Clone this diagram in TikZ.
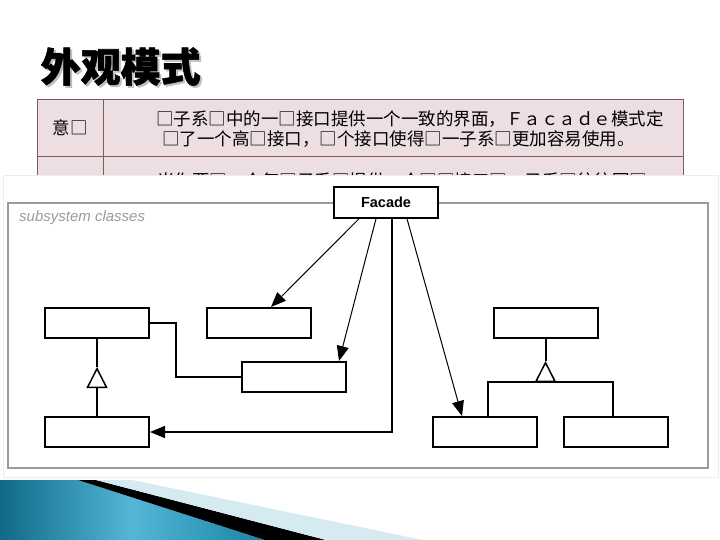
\documentclass[tikz,border=0pt]{standalone}
\usepackage{fontspec}
\setmainfont{Liberation Sans}
\newfontfamily\cjk{Noto Sans CJK SC}
\newfontfamily\titlefont{Noto Sans CJK SC}[BoldFeatures={FakeBold=1.5}]
\usetikzlibrary{arrows.meta,calc}
\definecolor{tblfill}{RGB}{236,222,225}
\definecolor{tblline}{RGB}{128,88,96}
\definecolor{framegray}{RGB}{155,155,155}
\definecolor{tealdark}{RGB}{16,106,136}
\definecolor{tealmid}{RGB}{84,182,214}
\definecolor{tealright}{RGB}{24,132,165}
\definecolor{paleblue}{RGB}{214,234,241}
\begin{document}
\begin{tikzpicture}[x=1pt,y=-1pt,
  cls/.style={draw,line width=2pt,fill=white,minimum width=104pt,minimum height=30pt,inner sep=0pt},
  facadebox/.style={draw,line width=1.5pt,fill=white,minimum width=104pt,minimum height=31pt,inner sep=0pt,font=\bfseries\fontsize{14.5}{14.5}\selectfont},
  assoc/.style={line width=1pt,-{Triangle[length=15pt,width=12pt]}},
  genline/.style={line width=2pt},
  gentip/.style={line width=1.5pt,-{Triangle[open,length=21pt,width=21pt]}},
  cjktext/.style={anchor=west,inner sep=0pt,font=\cjk\fontsize{17.5}{20}\selectfont},
  titletext/.style={anchor=west,inner sep=0pt,font=\titlefont\bfseries\fontsize{40}{40}\selectfont}
]
\useasboundingbox (0,0) rectangle (720,540);
\fill[white] (0,0) rectangle (720,540);

% title
\node[titletext,text=black!25] (titleshadow) at (42.5,68.5) {外观模式};
\node[titletext] (title) at (40.5,66.5) {外观模式};

% table (partly hidden)
\draw[tblline,fill=tblfill,line width=1pt] (37,100) rectangle (683,260);
\draw[tblline,line width=1pt] (37,157) -- (683,157);
\draw[tblline,line width=1pt] (103,100) -- (103,260);
\node[cjktext,anchor=center] (intent) at (70,128) {意□};
\node[cjktext] (row1a) at (156,119) {□子系□中的一□接口提供一个一致的界面，Ｆａｃａｄｅ模式定};
\node[cjktext] (row1b) at (162,139) {□了一个高□接口，□个接口使得□一子系□更加容易使用。};
\node[cjktext] (row2) at (157,181) {当你要□一个复□子系□提供一个□□接口□，子系□往往因□};

% diagram panel
\draw[draw=black!7,fill=white] (3,175) rectangle (718,477);
\draw[framegray,line width=2.2pt] (8,203) rectangle (708,468);
\node[anchor=west,inner sep=0pt,text=framegray,font=\itshape\fontsize{15}{15}\selectfont] (sub) at (19,218) {subsystem classes};

\node[facadebox] (Fa) at (386,202.5) {Facade};

\node[cls] (A) at (97,323) {};
\node[cls] (B) at (259,323) {};
\node[cls] (C) at (294,377) {};
\node[cls] (D) at (97,432) {};
\node[cls] (E) at (545.5,323) {};
\node[cls] (F) at (484.5,432) {};
\node[cls] (G) at (615.5,432) {};

% generalization A <- D
\coordinate (tA) at (97,367);
\draw[genline] (A.south) -- (tA);
\draw[gentip] (D.north) -- (tA);

% generalization E <- F, G
\coordinate (tE) at (545.5,361);
\coordinate (bE) at (545.5,382);
\draw[genline] (E.south) -- (tE);
\draw[gentip] (bE) -- (tE);
\draw[genline] ([xshift=3.5pt]F.north) |- (bE) -| ([xshift=-2.5pt]G.north);

% A -- C
\draw[genline] (A.east) -- ++(26,0) |- (C.west);

% Facade associations
\draw[assoc] ([xshift=-27pt]Fa.south) -- ([xshift=12pt]B.north);
\draw[assoc] ([xshift=-10pt]Fa.south) -- ([xshift=45pt]C.north);
\draw[assoc] ([xshift=21pt]Fa.south) -- ([xshift=-22.5pt]F.north);
\draw[assoc,line width=1.4pt] ([xshift=6pt]Fa.south) |- (D.east);

% bottom decoration
\shade[left color=tealdark,right color=tealright,middle color=tealmid] (0,480) -- (78,480) -- (265,540) -- (0,540) -- cycle;
\fill[black] (78,480) -- (96,480) -- (326,540) -- (265,540) -- cycle;
\fill[paleblue] (96,480) -- (132,480) -- (423,540) -- (326,540) -- cycle;
\end{tikzpicture}
\end{document}
